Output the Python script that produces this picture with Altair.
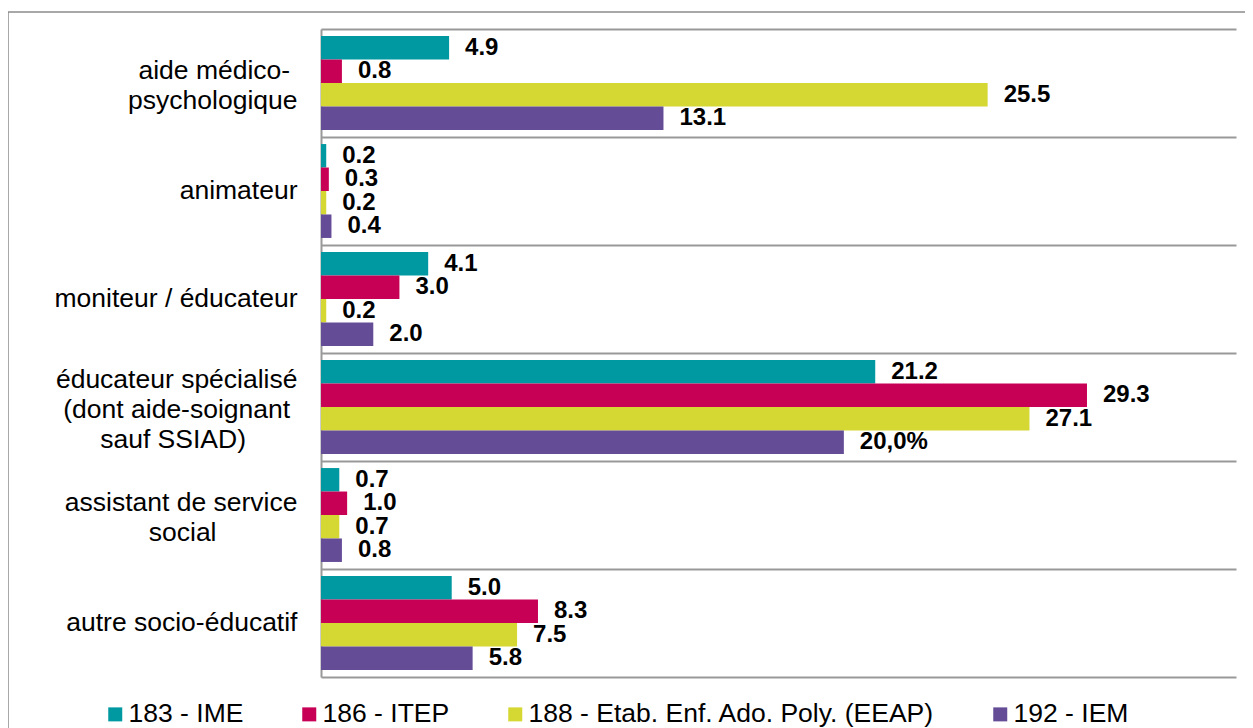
import altair as alt
import pandas as pd

NB = "\u00a0"
END = "\u200b"
# category labels (line breaks as in the reference, short lines centred with no-break spaces)
categories = [
    "aide médico-" + NB + END + "\npsychologique",
    "animateur",
    "moniteur / éducateur",
    "éducateur spécialisé\n(dont aide-soignant" + NB + END + "\nsauf SSIAD)" + NB * 7 + END,
    "assistant de service\nsocial" + NB * 11 + END,
    "autre socio-éducatif",
]
series = ["183 - IME", "186 - ITEP", "188 - Etab. Enf. Ado. Poly. (EEAP)", "192 - IEM"]
colors = ["#0099a1", "#c70056", "#d5d733", "#644c97"]

ime = [4.9, 0.2, 4.1, 21.2, 0.7, 5.0]
itep = [0.8, 0.3, 3.0, 29.3, 1.0, 8.3]
eeap = [25.5, 0.2, 0.2, 27.1, 0.7, 7.5]
iem = [13.1, 0.4, 2.0, 20.0, 0.8, 5.8]

ime_labels = ["4.9", "0.2", "4.1", "21.2", "0.7", "5.0"]
itep_labels = ["0.8", "0.3", "3.0", "29.3", "1.0", "8.3"]
eeap_labels = ["25.5", "0.2", "0.2", "27.1", "0.7", "7.5"]
iem_labels = ["13.1", "0.4", "2.0", "20,0%", "0.8", "5.8"]

rows = []
for s, vals, labs in zip(series, [ime, itep, eeap, iem],
                         [ime_labels, itep_labels, eeap_labels, iem_labels]):
    for c, v, l in zip(categories, vals, labs):
        rows.append({"category": c, "series": s, "value": v, "label": l})
df = pd.DataFrame(rows)

FONT = "Liberation Sans"
GRID = "#999999"

x_enc = alt.X("value:Q", scale=alt.Scale(domain=[0, 35], nice=False),
              axis=alt.Axis(title=None, labels=False, ticks=False, grid=False,
                            domain=True, domainColor=GRID, domainWidth=2))
y_enc = alt.Y("category:N", sort=categories,
              scale=alt.Scale(paddingInner=0, paddingOuter=0),
              axis=alt.Axis(title=None, ticks=False, grid=True, bandPosition=0,
                            gridColor=GRID, gridWidth=2, domainColor=GRID, domainWidth=2,
                            labelExpr="split(datum.value, '\\n')",
                            labelOffset={"condition": [
                                {"test": "indexof(datum.value, 'SSIAD') >= 0", "value": -27},
                                {"test": "indexof(datum.value, '\\n') >= 0", "value": -12}],
                                "value": 0},
                            labelFontSize=26.5, labelFont=FONT, labelColor="#000000",
                            labelPadding=24, labelLimit=0, labelLineHeight=30))
yoff_enc = alt.YOffset("series:N", sort=series,
                       scale=alt.Scale(paddingInner=0, paddingOuter=0.3))

bars = alt.Chart(df).mark_bar().encode(
    x=x_enc,
    y=y_enc,
    yOffset=yoff_enc,
    color=alt.Color("series:N", sort=series,
                    scale=alt.Scale(domain=series, range=colors),
                    legend=alt.Legend(orient="none", legendX=-219, legendY=672,
                                      direction="horizontal", columns=4, title=None,
                                      symbolType="square", symbolSize=196,
                                      symbolStrokeWidth=0, labelFontSize=26.5,
                                      labelFont=FONT, labelColor="#000000",
                                      columnPadding=52, labelOffset=0, padding=0,
                                      labelLimit=0)),
)

labels = alt.Chart(df).mark_text(
    align="left", baseline="middle", dx=16, fontSize=24, fontWeight="bold",
    font=FONT, color="#000000"
).encode(
    x=alt.X("value:Q"),
    y=alt.Y("category:N", sort=categories),
    yOffset=alt.YOffset("series:N", sort=series),
    text="label:N",
)

frame = alt.Chart(alt.Data(values=[{}])).mark_rect(
    fill="transparent", stroke="#8c8c8c", strokeWidth=1.5
).encode(
    x=alt.value(-313), x2=alt.value(1300), y=alt.value(-17), y2=alt.value(800)
)

chart = alt.layer(frame, bars, labels).properties(
    width=915, height=648,
    padding={"left": 313, "top": 21, "right": 9, "bottom": 59},
    autosize="none",
).configure(font=FONT).configure_view(stroke=None)

chart.save("out.html", embed_options={"renderer": "svg", "actions": False})
